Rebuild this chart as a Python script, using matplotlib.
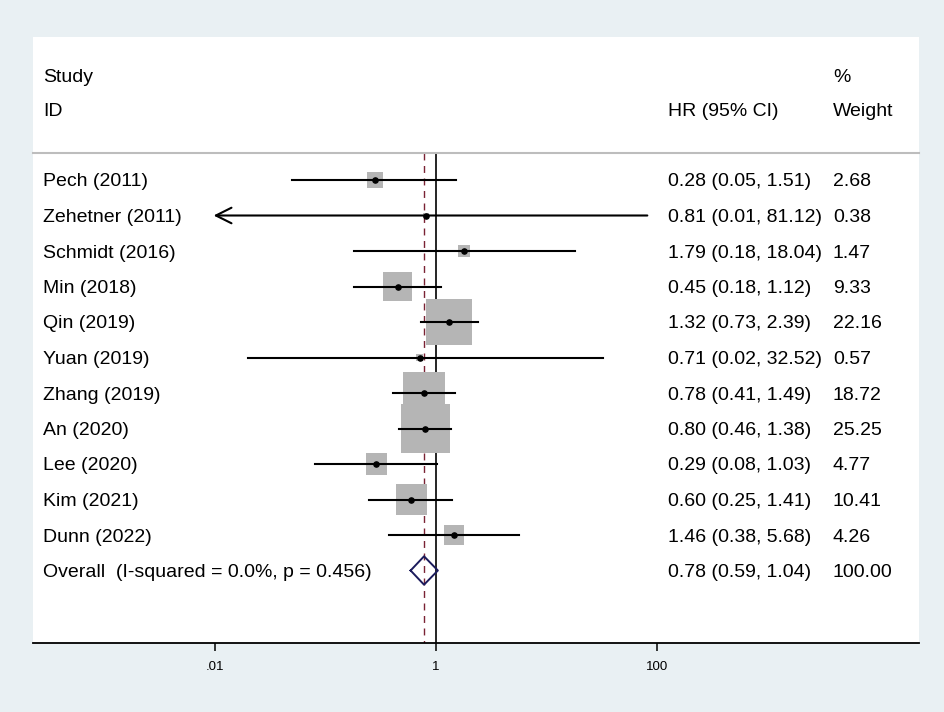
import numpy as np
import matplotlib.pyplot as plt

plt.rcParams['font.family'] = ['Liberation Sans', 'DejaVu Sans']

studies = ["Pech (2011)", "Zehetner (2011)", "Schmidt (2016)", "Min (2018)",
           "Qin (2019)", "Yuan (2019)", "Zhang (2019)", "An (2020)",
           "Lee (2020)", "Kim (2021)", "Dunn (2022)"]
hr = [0.28, 0.81, 1.79, 0.45, 1.32, 0.71, 0.78, 0.80, 0.29, 0.60, 1.46]
lo = [0.05, 0.01, 0.18, 0.18, 0.73, 0.02, 0.41, 0.46, 0.08, 0.25, 0.38]
hi = [1.51, 81.12, 18.04, 1.12, 2.39, 32.52, 1.49, 1.38, 1.03, 1.41, 5.68]
weight = [2.68, 0.38, 1.47, 9.33, 22.16, 0.57, 18.72, 25.25, 4.77, 10.41, 4.26]

overall_label = "Overall  (I-squared = 0.0%, p = 0.456)"
overall = (0.78, 0.59, 1.04)

tick_vals = [0.01, 1, 100]
tick_labels = [".01", "1", "100"]

bg = '#e9f0f3'
fig = plt.figure(figsize=(9.45, 7.12), dpi=100, facecolor=bg)
W, H = 945, 712
ax = fig.add_axes([33 / W, (H - 643) / H, 886 / W, 606 / H])
ax.set_facecolor('white')

ax.set_xscale('log')
ax.set_xlim(10 ** -3.64, 10 ** 4.363)
row_h = 35.5
ax.set_ylim((643 - 180) / row_h, (37 - 180) / row_h)

n = len(studies)
rows = np.arange(n)
y_over = n
y_top = (153 - 180) / row_h
y_bot = ax.get_ylim()[0]

trans_t = ax.get_yaxis_transform()  # x in axes units, y in data

# reference lines (null and overall estimate)
ax.plot([1, 1], [y_top, y_bot], color='black', lw=1.2, zorder=1)
ax.plot([overall[0], overall[0]], [y_top, y_bot], color='#7a2233',
        lw=1.0, ls=(0, (5, 4)), zorder=1)

# header separator
ax.plot([0, 1], [y_top, y_top], color='#bdbdbd', lw=1.5, transform=trans_t, clip_on=False)

# weight boxes
ax.scatter(hr, rows, s=np.array(weight) * 49, marker='s', color='#b5b5b5',
           edgecolor='none', zorder=2)

for i in range(n):
    if lo[i] <= 0.01:
        ax.annotate('', xy=(0.0098, i), xytext=(hi[i], i),
                    arrowprops=dict(arrowstyle='->', lw=1.5, color='black',
                                    mutation_scale=28, shrinkA=0, shrinkB=0),
                    zorder=3)
    else:
        ax.plot([lo[i], hi[i]], [i, i], color='black', lw=1.5, zorder=3)
ax.scatter(hr, rows, s=14, color='black', zorder=4)

# overall diamond
est, olo, ohi = overall
dx = [olo, est, ohi, est, olo]
dy = [y_over, y_over - 0.4, y_over, y_over + 0.4, y_over]
ax.plot(dx, dy, color='#1b1b5c', lw=1.4, zorder=4)

fs = 14
va = 'center_baseline'
x_lab, x_hr, x_w = 10 / 886, 635 / 886, 800 / 886
ax.text(x_lab, (75 - 180) / row_h, "Study", transform=trans_t, va=va, fontsize=fs)
ax.text(x_lab, (109 - 180) / row_h, "ID", transform=trans_t, va=va, fontsize=fs)
ax.text(x_hr, (109 - 180) / row_h, "HR (95% CI)", transform=trans_t, va=va, fontsize=fs)
ax.text(x_w, (75 - 180) / row_h, "%", transform=trans_t, va=va, fontsize=fs)
ax.text(x_w, (109 - 180) / row_h, "Weight", transform=trans_t, va=va, fontsize=fs)

for i in range(n):
    ax.text(x_lab, i, studies[i], transform=trans_t, va=va, fontsize=fs)
    ax.text(x_hr, i, f"{hr[i]:.2f} ({lo[i]:.2f}, {hi[i]:.2f})", transform=trans_t,
            va=va, fontsize=fs)
    ax.text(x_w, i, f"{weight[i]:.2f}", transform=trans_t, va=va, fontsize=fs)

ax.text(x_lab, y_over, overall_label, transform=trans_t, va=va, fontsize=fs)
ax.text(x_hr, y_over, f"{est:.2f} ({olo:.2f}, {ohi:.2f})", transform=trans_t,
        va=va, fontsize=fs)
ax.text(x_w, y_over, f"{sum(weight):.2f}", transform=trans_t, va=va, fontsize=fs)

for s in ['top', 'right', 'left']:
    ax.spines[s].set_visible(False)
ax.spines['bottom'].set_linewidth(1.3)
ax.set_yticks([])
ax.set_xticks(tick_vals)
ax.set_xticklabels(tick_labels, fontsize=9.5)
ax.xaxis.set_minor_locator(plt.NullLocator())
ax.tick_params(axis='x', length=6, width=1.1, pad=7)

fig.savefig('out.png', dpi=100, facecolor=bg)
